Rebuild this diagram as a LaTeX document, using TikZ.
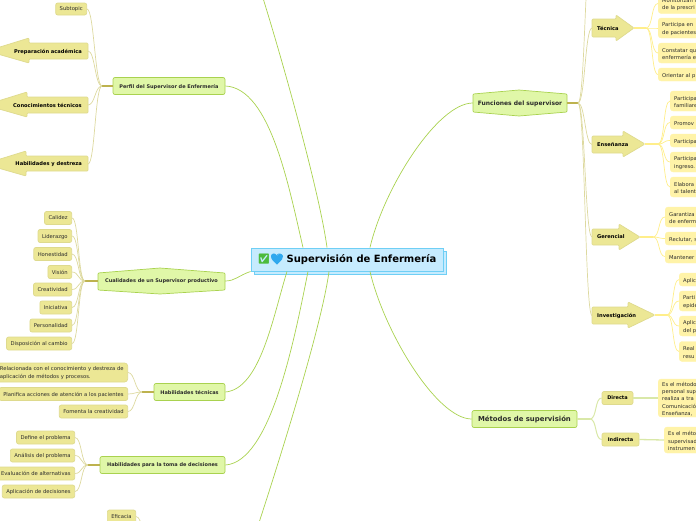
\documentclass[tikz,border=0pt]{standalone}
\usepackage{fontspec}
\setmainfont{DejaVu Sans}
\newfontfamily\emojifont{Noto Emoji}
\usetikzlibrary{shadows}
\definecolor{rootfill}{HTML}{C6EBFE}
\definecolor{rootline}{HTML}{6FCFF5}
\definecolor{topicfill}{HTML}{E0F7A8}
\definecolor{topicline}{HTML}{A9D24F}
\definecolor{subfill}{HTML}{ECE795}
\definecolor{subline}{HTML}{DEDA8E}
\definecolor{leaffill}{HTML}{FFF3A8}
\definecolor{stubcol}{HTML}{BDB24E}
\definecolor{twigcol}{HTML}{DDD99F}
\definecolor{yellowcol}{HTML}{FFEE8A}
\definecolor{palegreen}{HTML}{D9E8A8}
\definecolor{inkcol}{HTML}{2B2B2B}
\definecolor{checkcol}{HTML}{4CBB3C}
\definecolor{heartcol}{HTML}{2FA8EE}

\begin{document}
\begin{tikzpicture}[x=1pt,y=-1pt,
    root/.style={draw=rootline,fill=rootfill,line width=1pt,
                 minimum width=192pt,minimum height=23pt,inner sep=0pt,
                 font=\fontsize{10}{12}\selectfont\bfseries,text=black,
                 copy shadow={shadow xshift=3pt,shadow yshift=-3pt}},
    topic/.style={draw=topicline,fill=topicfill,line width=0.7pt,rounded corners=2pt,
                  minimum height=17pt,inner sep=0pt,text=inkcol,text depth=0pt,
                  font=\fontsize{5}{7}\selectfont\bfseries},
    topicbig/.style={topic,font=\fontsize{6.9}{9}\selectfont\bfseries},
    hexa/.style={draw=topicline,fill=topicfill,line width=0.7pt,rounded corners=1pt},
    hexatext/.style={inner sep=0pt,text=inkcol,text depth=0pt},
    flecha/.style={draw=subline,fill=subfill,line width=0.7pt,rounded corners=1pt},
    flechatext/.style={inner sep=0pt,anchor=west,text=black,text depth=0pt,
                       font=\fontsize{5.15}{7}\selectfont\bfseries},
    flechaleft/.style={flechatext,anchor=east,inner xsep=6pt},
    sub/.style={draw=subline,fill=subfill,line width=0.7pt,rounded corners=2pt,
                minimum height=13pt,inner xsep=4pt,inner ysep=0pt,anchor=east,text depth=0pt,
                text=inkcol,align=left,font=\fontsize{5.25}{7.2}\selectfont},
    subbold/.style={sub,anchor=center,inner xsep=0pt,text=black,
                    font=\fontsize{5}{7}\selectfont\bfseries},
    leaf/.style={draw=leaffill,fill=leaffill,rounded corners=3pt,anchor=west,
                 minimum height=13pt,text width=56pt,inner xsep=4pt,inner ysep=0pt,
                 text=inkcol,align=left,font=\fontsize{5.25}{7.2}\selectfont,
                 execute at begin node=\rule{0pt}{6.2pt}},
    trunk/.style={topicline,line width=0.7pt},
    stub/.style={stubcol,line width=1.1pt},
    stuby/.style={yellowcol,line width=1.1pt},
    stubg/.style={palegreen,line width=1.3pt},
    twigl/.style={twigcol,line width=0.7pt,to path={.. controls +(-7,0) and +(7,0) .. (\tikztotarget)}},
    twigr/.style={twigcol,line width=0.7pt,to path={.. controls +(7,0) and +(-7,0) .. (\tikztotarget)}},
    twigy/.style={twigr,yellowcol},
    twigg/.style={twigr,palegreen,line width=1pt}]
    \useasboundingbox (0,0) rectangle (696,520);
    \clip (0,0) rectangle (696,520);

    % centre
    \node[root] (centro) at (347,259.5)
      {{\emojifont\textcolor{checkcol}{✅}\textcolor{heartcol}{💙}} Supervisión de Enfermería};
    % solid heart over the outline glyph
    \fill[heartcol] (277,264.5) .. controls (272,260) and (270.5,258) .. (271,256)
      .. controls (271.5,253.5) and (275.5,253) .. (277,256)
      .. controls (278.5,253) and (282.5,253.5) .. (283,256)
      .. controls (283.5,258) and (282,260) .. (277,264.5) -- cycle;

    % left side, top
    \node[topic,minimum width=112pt] (perfil) at (169,86) {Perfil del Supervisor de Enfermería};
    \coordinate (perfilhub) at (102,86);
    \node[sub,minimum height=12pt] (subtopic) at (87,9) {Subtopic};
    \draw[flecha] (88,43)--(29,43)--(29,38)--(-13,51)--(29,63)--(29,59)--(88,59)--cycle;
    \node[flechaleft] (preparacion) at (88,51) {Preparación académica};
    \draw[flecha] (88,97)--(27,97)--(27,92)--(-15,105)--(27,117)--(27,113)--(88,113)--cycle;
    \node[flechaleft] (conocimientos) at (88,105) {Conocimientos técnicos};
    \draw[flecha] (88,156)--(26,156)--(26,151)--(-16,164)--(26,176)--(26,171)--(88,171)--cycle;
    \node[flechaleft] (destreza) at (88,164) {Habilidades y destreza};
    \draw[stub] (perfil.west)--(perfilhub);
    \draw[twigl] (perfilhub) to (subtopic.east);
    \draw[twigl] (perfilhub) to (preparacion.east);
    \draw[twigl] (perfilhub) to (conocimientos.east);
    \draw[twigl] (perfilhub) to (destreza.east);

    % left side, qualities
    \draw[hexa] (98,273)--(160,268)--(225,273)--(225,290)--(160,294)--(98,290)--cycle;
    \node[hexatext,minimum width=127pt,font=\fontsize{5}{7}\selectfont\bfseries] (cualidades) at (161.5,281)
      {Cualidades de un Supervisor productivo};
    \coordinate (cualidadeshub) at (85,281);
    \node[sub] (calidez) at (72,218) {Calidez};
    \node[sub] (liderazgo) at (72,236) {Liderazgo};
    \node[sub] (honestidad) at (72,254) {Honestidad};
    \node[sub] (vision) at (72,272) {Visión};
    \node[sub] (creatividad) at (72,289.5) {Creatividad};
    \node[sub] (iniciativa) at (72,307.5) {Iniciativa};
    \node[sub] (personalidad) at (72,325.5) {Personalidad};
    \node[sub] (disposicion) at (72,343.5) {Disposición al cambio};
    \draw[stub] (cualidades.west)--(cualidadeshub);
    \draw[twigl] (cualidadeshub) to (calidez.east);
    \draw[twigl] (cualidadeshub) to (liderazgo.east);
    \draw[twigl] (cualidadeshub) to (honestidad.east);
    \draw[twigl] (cualidadeshub) to (vision.east);
    \draw[twigl] (cualidadeshub) to (creatividad.east);
    \draw[twigl] (cualidadeshub) to (iniciativa.east);
    \draw[twigl] (cualidadeshub) to (personalidad.east);
    \draw[twigl] (cualidadeshub) to (disposicion.east);

    % left side, skills
    \node[topic,minimum width=71pt] (tecnicas) at (189.5,392) {Habilidades técnicas};
    \coordinate (tecnicashub) at (142,392);
    \node[sub,minimum height=19pt,rounded corners=3pt] (relacionada) at (128,372.5)
      {Relacionada con el conocimiento y destreza de\\aplicación de métodos y procesos.};
    \node[sub] (planifica) at (128,394) {Planifica acciones de atención a los pacientes};
    \node[sub] (fomenta) at (128,411.5) {Fomenta la creatividad};
    \draw[stub] (tecnicas.west)--(tecnicashub);
    \draw[twigl] (tecnicashub) to (relacionada.east);
    \draw[twigl] (tecnicashub) to (planifica.east);
    \draw[twigl] (tecnicashub) to (fomenta.east);

    % left side, decisions
    \node[topic,minimum width=125pt] (decisiones) at (162.5,465) {Habilidades para la toma de decisiones};
    \coordinate (decisioneshub) at (88,465);
    \node[sub] (define) at (75,437.5) {Define el problema};
    \node[sub] (analisis) at (75,455.5) {Análisis del problema};
    \node[sub] (evaluacion) at (75,473.5) {Evaluación de alternativas};
    \node[sub] (aplicacion) at (75,491.5) {Aplicación de decisiones};
    \draw[stub] (decisiones.west)--(decisioneshub);
    \draw[twigl] (decisioneshub) to (define.east);
    \draw[twigl] (decisioneshub) to (analisis.east);
    \draw[twigl] (decisioneshub) to (evaluacion.east);
    \draw[twigl] (decisioneshub) to (aplicacion.east);
    \node[sub] (eficacia) at (136,516.5) {Eficacia};
    \coordinate (eficaciaend) at (150,545);
    \draw[twigr] (eficacia.east) to (eficaciaend);

    % right side, functions
    \draw[hexa] (473,94)--(519,90)--(567,94)--(567,112)--(519,116)--(473,112)--cycle;
    \node[hexatext,minimum width=94pt,font=\fontsize{6}{8}\selectfont\bfseries] (funciones) at (520,103)
      {Funciones del supervisor};
    \coordinate (funcioneshub) at (578,103);
    \coordinate (funcionesarriba) at (592,-60);
    \draw[stub] (funciones.east)--(funcioneshub);
    \draw[twigr] (funcioneshub) to (funcionesarriba);

    \draw[flecha] (592,19)--(616,19)--(616,15)--(634,28)--(616,41)--(616,37)--(592,37)--cycle;
    \node[flechatext] (tecnica) at (592,28) {\hspace{5pt}Técnica};
    \coordinate (tecnicatip) at (634,28);
    \coordinate (tecnicahub) at (646,28);
    \node[leaf,minimum height=20pt] (t1) at (658,3.5) {Monitorizan l\\de la prescri};
    \node[leaf,minimum height=20pt] (t2) at (658,28) {Participa en\\de pacientes};
    \node[leaf,minimum height=20pt] (t3) at (658,53) {Constatar qu\\enfermería e};
    \node[leaf] (t4) at (658,74.5) {Orientar al p};
    \draw[stuby] (tecnicatip)--(tecnicahub);
    \draw[twigy] (tecnicahub) to (t1.west);
    \draw[twigy] (tecnicahub) to (t2.west);
    \draw[twigy] (tecnicahub) to (t3.west);
    \draw[twigy] (tecnicahub) to (t4.west);

    \draw[flecha] (592,136)--(623,136)--(623,131)--(645,144)--(623,157)--(623,153)--(592,153)--cycle;
    \node[flechatext] (ensenanza) at (592,144.5) {\hspace{5pt}Enseñanza};
    \coordinate (ensenanzatip) at (645,144);
    \coordinate (ensenanzahub) at (658,144);
    \node[leaf,minimum height=20pt] (e1) at (670,101) {Participa\\familiare};
    \node[leaf] (e2) at (670,122.5) {Promov};
    \node[leaf] (e3) at (670,140.5) {Participa};
    \node[leaf,minimum height=20pt] (e4) at (670,162) {Participa\\ingreso.};
    \node[leaf,minimum height=20pt] (e5) at (670,187) {Elabora\\al talent};
    \draw[stuby] (ensenanzatip)--(ensenanzahub);
    \draw[twigy] (ensenanzahub) to (e1.west);
    \draw[twigy] (ensenanzahub) to (e2.west);
    \draw[twigy] (ensenanzahub) to (e3.west);
    \draw[twigy] (ensenanzahub) to (e4.west);
    \draw[twigy] (ensenanzahub) to (e5.west);

    \draw[flecha] (592,229)--(619,229)--(619,224)--(640,237)--(619,250)--(619,245)--(592,245)--cycle;
    \node[flechatext] (gerencial) at (592,237) {\hspace{5pt}Gerencial};
    \coordinate (gerencialtip) at (640,237);
    \coordinate (gerencialhub) at (653,237);
    \node[leaf,minimum height=20pt] (g1) at (665,217) {Garantiza\\de enferm};
    \node[leaf] (g2) at (665,238.5) {Reclutar, s};
    \node[leaf] (g3) at (665,256.5) {Mantener};
    \draw[stuby] (gerencialtip)--(gerencialhub);
    \draw[twigy] (gerencialhub) to (g1.west);
    \draw[twigy] (gerencialhub) to (g2.west);
    \draw[twigy] (gerencialhub) to (g3.west);

    \draw[flecha] (592,307)--(628,307)--(628,302)--(655,315)--(628,328)--(628,324)--(592,324)--cycle;
    \node[flechatext] (investigacion) at (592,315.5) {\hspace{5pt}Investigación};
    \coordinate (investigaciontip) at (655,315);
    \coordinate (investigacionhub) at (667,315);
    \node[leaf] (i1) at (679,279.5) {Aplic};
    \node[leaf,minimum height=20pt] (i2) at (679,301) {Parti\\epidé};
    \node[leaf,minimum height=20pt] (i3) at (679,326) {Aplic\\del p};
    \node[leaf,minimum height=20pt] (i4) at (679,351.5) {Real\\resu};
    \draw[stuby] (investigaciontip)--(investigacionhub);
    \draw[twigy] (investigacionhub) to (i1.west);
    \draw[twigy] (investigacionhub) to (i2.west);
    \draw[twigy] (investigacionhub) to (i3.west);
    \draw[twigy] (investigacionhub) to (i4.west);

    \draw[twigr] (funcioneshub) to (tecnica.west);
    \draw[twigr] (funcioneshub) to (ensenanza.west);
    \draw[twigr] (funcioneshub) to (gerencial.west);
    \draw[twigr] (funcioneshub) to (investigacion.west);

    % right side, methods
    \node[topicbig,minimum width=105pt] (metodos) at (524.5,419) {Métodos de supervisión};
    \coordinate (metodoshub) at (590,419);
    \node[subbold,minimum width=31pt] (directa) at (617.5,398) {Directa};
    \node[subbold,minimum width=37pt] (indirecta) at (620.5,439.5) {Indirecta};
    \node[leaf,minimum height=38pt] (d1) at (658,398)
      {Es el método\\personal sup\\realiza a tra\\Comunicació\\Enseñanza,};
    \node[leaf,minimum height=26pt] (d2) at (664,440) {Es el méto\\supervisad\\instrumen};
    \draw[stubg] (metodos.east)--(metodoshub);
    \draw[twigg] (metodoshub) to (directa.west);
    \draw[twigg] (metodoshub) to (indirecta.west);
    \draw[stubg] (directa.east)--(d1.west);
    \draw[stubg] (indirecta.east)--(d2.west);

    % trunk
    \coordinate (arribaend) at (254,-30);
    \coordinate (abajoend) at (250,550);
    \draw[trunk] (funciones.west) .. controls +(-35,0) and +(14,-60) .. ([xshift=23pt]centro.north);
    \draw[trunk] (metodos.west) .. controls +(-35,0) and +(14,60) .. ([xshift=23pt]centro.south);
    \draw[trunk] (perfil.east) .. controls +(45,2) and +(-14,-60) .. ([xshift=-44pt]centro.north);
    \draw[trunk] (arribaend) .. controls +(20,60) and +(-8,-60) .. ([xshift=-20pt]centro.north);
    \draw[trunk] (cualidades.east) .. controls +(10,0) and +(-12,4) .. (centro.south west);
    \draw[trunk] (tecnicas.east) .. controls +(35,-3) and +(-14,45) .. ([xshift=-60pt]centro.south);
    \draw[trunk] (decisiones.east) .. controls +(45,-3) and +(-14,70) .. ([xshift=-39pt]centro.south);
    \draw[trunk] (abajoend) .. controls +(20,-60) and +(-8,60) .. ([xshift=-18pt]centro.south);
  \end{tikzpicture}
\end{document}
